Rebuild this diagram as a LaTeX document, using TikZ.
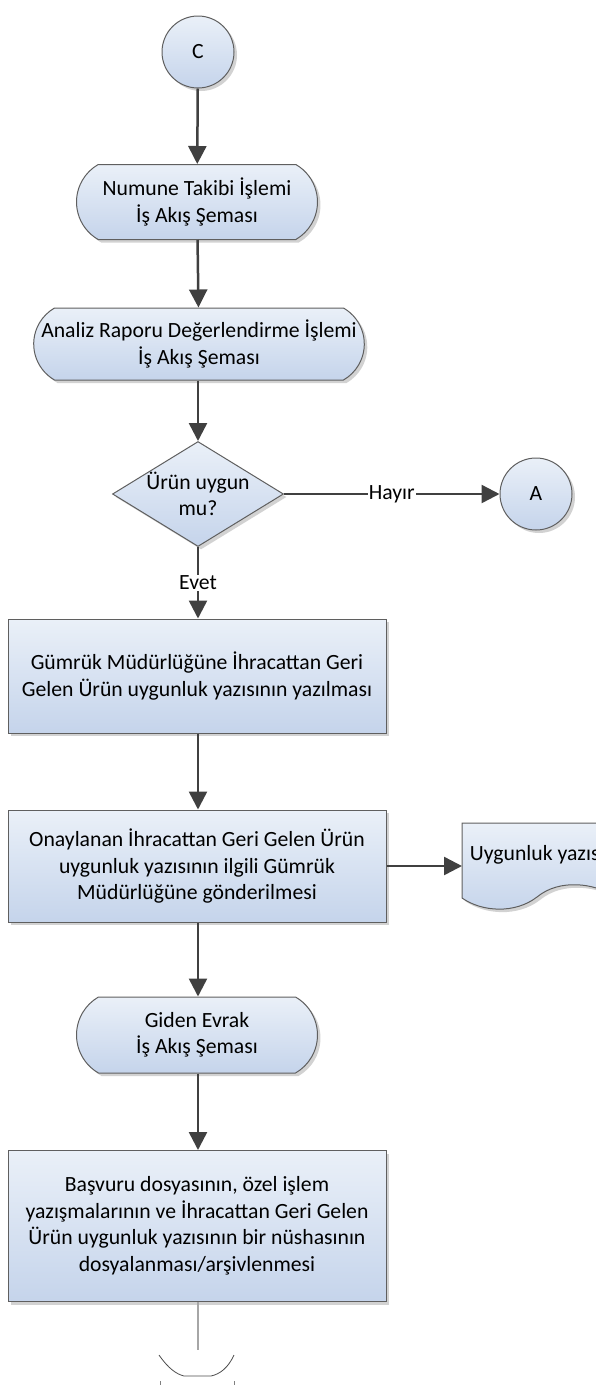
\documentclass[tikz,border=0pt]{standalone}
\usepackage{fontspec}
\setmainfont{Carlito}
\usepackage{tikz}
\usetikzlibrary{arrows.meta, shapes.geometric, shapes.misc, shadows, positioning}
\definecolor{boxtop}{HTML}{EAF0F8}
\definecolor{boxbot}{HTML}{C5D4EB}
\definecolor{edgegray}{HTML}{5F5F5F}
\definecolor{arrgray}{HTML}{404040}
\tikzset{
  every node/.style={font=\fontsize{21.7}{26.5}\selectfont},
  shaded/.style={draw=edgegray,line width=1pt,top color=boxtop,bottom color=boxbot,
    drop shadow={shadow xshift=3pt,shadow yshift=-3pt,fill=black!35,opacity=.5}},
  conn/.style={circle,shaded,minimum size=72pt,inner sep=0pt},
  term/.style={rounded rectangle,rounded rectangle arc length=120,shaded,align=center,inner sep=0pt},
  decision/.style={diamond,shaded,inner sep=0pt,minimum width=171pt,minimum height=105pt},
  proc/.style={rectangle,shaded,align=center,inner sep=0pt,minimum width=378pt},
  arr/.style={draw=arrgray,line width=2.5pt,-{Triangle[length=18pt,width=18pt]}},
  lbl/.style={fill=white,inner sep=1pt}
}
\begin{document}
\begin{tikzpicture}[x=1pt,y=-1pt]
  \useasboundingbox (0,0) rectangle (596,1385);
  \clip (0,0) rectangle (596,1385);

  % baglantilar ve baslangic
  \node[conn] (c) at (198,52) {C};
  \node[term,minimum width=241pt,minimum height=75pt] (numune) at (197,202)
    {Numune Takibi İşlemi\\İş Akış Şeması};
  \node[term,minimum width=328pt,minimum height=72pt] (analiz) at (199,344)
    {Analiz Raporu Değerlendirme İşlemi\\İş Akış Şeması};

  % karar
  \node[decision] (uygun) at (198,494) {};
  \node[align=center,inner sep=0pt] (uygunmetin) at (uygun) {Ürün uygun\\mu?};
  \node[conn] (a) at (536,494) {A};

  % islemler
  \node[proc,minimum height=114pt] (gumruk) at (197,676)
    {Gümrük Müdürlüğüne İhracattan Geri\\Gelen Ürün uygunluk yazısının yazılması};
  \node[proc,minimum height=112pt] (onay) at (197,866)
    {Onaylanan İhracattan Geri Gelen Ürün\\uygunluk yazısının ilgili Gümrük\\Müdürlüğüne gönderilmesi};

  % dokuman
  \path[shaded] (462,823) -- (612,823) -- (612,895)
    .. controls (595,884) and (560,878) .. (537,897)
    .. controls (515,914) and (482,912) .. (462,898) -- cycle;
  \node[minimum width=150pt,minimum height=64pt,anchor=north west,inner sep=0pt] (yazi) at (462,823)
    {Uygunluk yazısı};

  \node[term,minimum width=241pt,minimum height=76pt] (giden) at (197,1035)
    {Giden Evrak\\İş Akış Şeması};
  \node[proc,minimum height=151pt] (arsiv) at (197,1226)
    {Başvuru dosyasının, özel işlem\\yazışmalarının ve İhracattan Geri Gelen\\Ürün uygunluk yazısının bir nüshasının\\dosyalanması/arşivlenmesi};
  \coordinate (son) at (198,1350);

  % oklar
  \draw[arr] (c) -- (numune);
  \draw[arr] (numune) -- (analiz);
  \draw[arr] (analiz.south -| uygun) -- (uygun);
  \draw[arr] (uygun) -- node[lbl]{Hayır} (a);
  \draw[arr] (uygun) -- node[lbl]{Evet} (gumruk.north -| uygun);
  \draw[arr] (gumruk.south -| uygun) -- (onay.north -| uygun);
  \draw[arr] (onay) -- (onay -| yazi.west);
  \draw[arr] (onay.south -| uygun) -- (giden.north -| uygun);
  \draw[arr] (giden.south -| uygun) -- (arsiv.north -| uygun);
  \draw[black!35,line width=2pt] (arsiv.south -| son) -- (son);

  % sayfa disi baglanti (kesik)
  \draw[black!70,line width=.8pt] (159,1355) .. controls (168,1368) and (176,1374) .. (184,1376)
    -- (211,1376) .. controls (220,1374) and (228,1368) .. (234,1355);
  \draw[black!50,line width=.6pt] (160,1381) -- (160,1385) (234,1381) -- (234,1385);
\end{tikzpicture}
\end{document}
